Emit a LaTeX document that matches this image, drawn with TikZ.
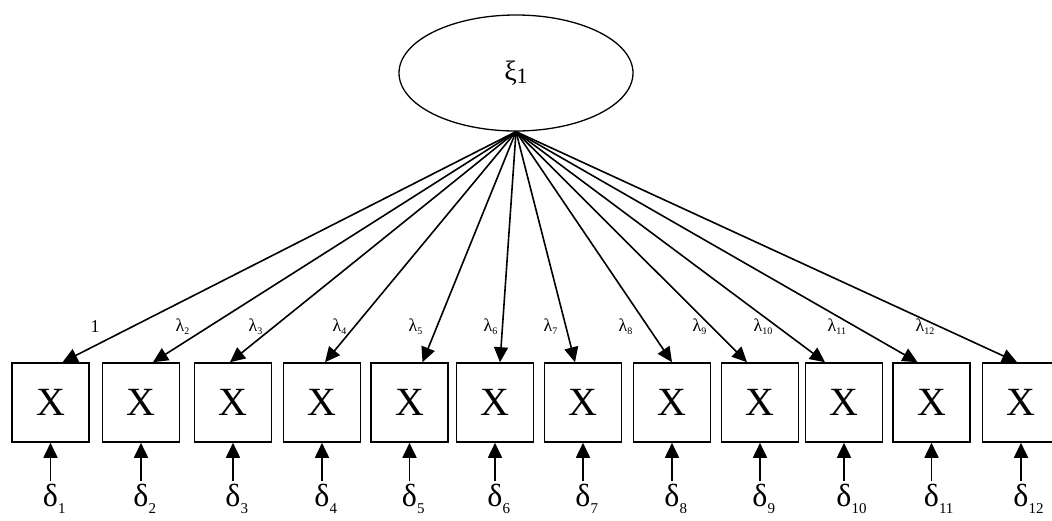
\documentclass[tikz,border=0pt]{standalone}
\usepackage{fontspec}
\setmainfont{Liberation Serif}
\usetikzlibrary{shapes.geometric, arrows.meta, positioning}

\begin{document}
\begin{tikzpicture}[
    x=1pt, y=-1pt,
    latent/.style={ellipse, draw, line width=1.3pt, minimum width=234pt, minimum height=116pt, font=\fontsize{28}{30}\selectfont},
    manifest/.style={rectangle, draw, line width=1.6pt, minimum width=77pt, minimum height=79pt, inner sep=0pt, font=\fontsize{40}{44}\selectfont},
    errlabel/.style={font=\fontsize{32}{34}\selectfont, inner xsep=0pt, inner ysep=3pt, anchor=north},
    loadlabel/.style={font=\fontsize{18}{20}\selectfont, inner sep=0pt},
    loading/.style={-{Triangle[length=15pt,width=14pt]}, line width=1.6pt},
    errarrow/.style={-{Triangle[length=15pt,width=14pt]}, line width=1.8pt}
]
\useasboundingbox (0,0) rectangle (1052,520);

% ===== LATENT FACTOR =====
\node[latent] (xi) at (516,73) {ξ\raisebox{-3pt}{\fontsize{22}{22}\selectfont 1}};

% ===== INDICATORS, ERRORS AND LOADINGS =====
\foreach \i/\cx/\tip/\lx in {1/50.5/12/95, 2/141/12/180, 3/233/-3/253, 4/322/3/337,
    5/409.5/13/413, 6/495/5/488, 7/583/-8/548, 8/672/0/623,
    9/760/-13/697, 10/844/-19/758, 11/931.5/-14/832, 12/1021/-4/920}{
  \node[manifest] (x\i) at (\cx,402.5) {X};
  \node[errlabel] (d\i) at (\cx,481) {δ\rlap{\raisebox{-7pt}{\fontsize{15}{15}\selectfont\i}}};
  \draw[loading] (xi.south) -- ([xshift=\tip pt]x\i.north);
  \draw[errarrow] (d\i.north) -- (x\i.south);
  \node[loadlabel] (l\i) at (\lx,327) {\ifnum\i=1 1\else λ\rlap{\raisebox{-3pt}{\fontsize{10}{10}\selectfont\i}}\fi};
}

\end{tikzpicture}
\end{document}
